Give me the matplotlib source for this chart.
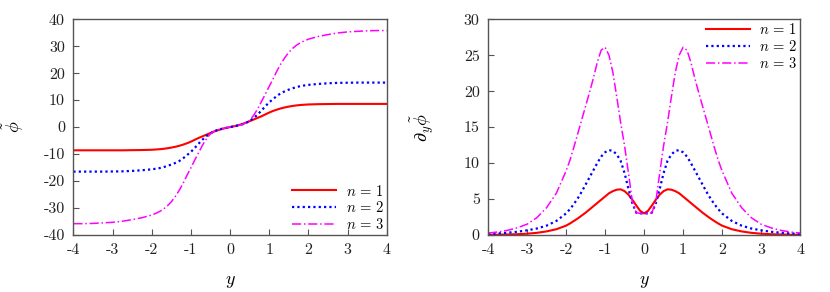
#!/usr/bin/env python3
"""
Profile of phi-tilde and its y-derivative for n = 1, 2, 3 (two panels).
"""

import matplotlib

matplotlib.use("Agg")
import matplotlib.pyplot as plt

plt.rcParams["font.family"] = ["cmr10", "DejaVu Serif"]
plt.rcParams["mathtext.fontset"] = "cm"
plt.rcParams["axes.unicode_minus"] = False

# sample positions along y
Y = [-4.0, -3.75, -3.5, -3.25, -3.0, -2.75, -2.5, -2.25,
     -2.0, -1.9, -1.8, -1.7, -1.6, -1.5, -1.4, -1.3, -1.2, -1.1,
     -1.0, -0.9, -0.8, -0.7, -0.6, -0.5, -0.4, -0.3, -0.2, -0.1,
     0.0, 0.1, 0.2, 0.3, 0.4, 0.5, 0.6, 0.7, 0.8, 0.9,
     1.0, 1.1, 1.2, 1.3, 1.4, 1.5, 1.6, 1.7, 1.8, 1.9,
     2.0, 2.25, 2.5, 2.75, 3.0, 3.25, 3.5, 3.75, 4.0]

# left panel: phi-tilde
PHI_N1 = [-8.6, -8.6, -8.6, -8.6, -8.6, -8.6, -8.55, -8.5,
          -8.4, -8.3, -8.2, -8.05, -7.85, -7.6, -7.3, -6.95, -6.5, -6.0,
          -5.4, -4.7, -4.0, -3.4, -2.8, -2.2, -1.6, -1.1, -0.65, -0.3,
          0.0, 0.3, 0.65, 1.1, 1.6, 2.2, 2.8, 3.4, 4.0, 4.7,
          5.4, 6.0, 6.5, 6.95, 7.3, 7.6, 7.85, 8.05, 8.2, 8.3,
          8.4, 8.5, 8.55, 8.6, 8.6, 8.6, 8.6, 8.6, 8.6]
PHI_N2 = [-16.5, -16.5, -16.5, -16.5, -16.45, -16.4, -16.25, -16.0,
          -15.65, -15.45, -15.2, -14.85, -14.4, -13.9, -13.3, -12.6, -11.6, -10.4,
          -9.2, -7.7, -6.1, -4.6, -3.3, -2.3, -1.5, -0.95, -0.6, -0.3,
          0.0, 0.3, 0.6, 0.95, 1.5, 2.3, 3.3, 4.6, 6.1, 7.7,
          9.2, 10.4, 11.6, 12.6, 13.3, 13.9, 14.4, 14.85, 15.2, 15.45,
          15.65, 16.0, 16.25, 16.4, 16.45, 16.5, 16.5, 16.5, 16.5]
PHI_N3 = [-35.8, -35.8, -35.7, -35.5, -35.3, -34.9, -34.3, -33.6,
          -32.6, -32.0, -31.3, -30.4, -29.2, -27.7, -25.8, -23.5, -20.9, -17.9,
          -15.1, -12.2, -9.4, -6.6, -4.3, -2.5, -1.5, -0.95, -0.6, -0.3,
          0.0, 0.3, 0.6, 0.95, 1.5, 2.5, 4.3, 6.6, 9.4, 12.2,
          15.1, 17.9, 20.9, 23.5, 25.8, 27.7, 29.2, 30.4, 31.3, 32.0,
          32.6, 33.6, 34.3, 34.9, 35.3, 35.5, 35.7, 35.8, 35.8]

# right panel: d/dy phi-tilde
DPHI_N1 = [0.02, 0.04, 0.07, 0.11, 0.18, 0.3, 0.5, 0.8,
           1.3, 1.6, 1.95, 2.3, 2.7, 3.1, 3.55, 4.0, 4.45, 4.9,
           5.35, 5.8, 6.1, 6.3, 6.35, 6.1, 5.6, 4.9, 4.1, 3.35,
           3.0, 3.35, 4.1, 4.9, 5.6, 6.1, 6.35, 6.3, 6.1, 5.8,
           5.35, 4.9, 4.45, 4.0, 3.55, 3.1, 2.7, 2.3, 1.95, 1.6,
           1.3, 0.8, 0.5, 0.3, 0.18, 0.11, 0.07, 0.04, 0.02]
DPHI_N2 = [0.15, 0.22, 0.32, 0.45, 0.65, 0.9, 1.3, 1.95,
           3.0, 3.6, 4.3, 5.1, 6.0, 7.0, 8.0, 9.0, 10.0, 10.9,
           11.5, 11.8, 11.7, 11.2, 10.3, 8.6, 6.4, 4.4, 3.1, 3.0,
           3.0, 3.0, 3.1, 4.4, 6.4, 8.6, 10.3, 11.2, 11.7, 11.8,
           11.5, 10.9, 10.0, 9.0, 8.0, 7.0, 6.0, 5.1, 4.3, 3.6,
           3.0, 1.95, 1.3, 0.9, 0.65, 0.45, 0.32, 0.22, 0.15]
DPHI_N3 = [0.27, 0.42, 0.65, 1.0, 1.5, 2.4, 3.8, 5.8,
           8.9, 10.4, 12.2, 14.1, 16.0, 17.9, 19.8, 21.8, 24.0, 25.7,
           26.1, 25.0, 22.6, 19.2, 15.6, 12.4, 8.6, 4.6, 3.1, 3.0,
           3.0, 3.0, 3.1, 4.6, 8.6, 12.4, 15.6, 19.2, 22.6, 25.0,
           26.1, 25.7, 24.0, 21.8, 19.8, 17.9, 16.0, 14.1, 12.2, 10.4,
           8.9, 5.8, 3.8, 2.4, 1.5, 1.0, 0.65, 0.42, 0.27]

LABELS = [r"$n\,=\,1$", r"$n\,=\,2$", r"$n\,=\,3$"]
X_TICKS = [-4, -3, -2, -1, 0, 1, 2, 3, 4]

STYLES = [
    dict(color="#ff0000", lw=1.5, ls="-"),
    dict(color="#0000ff", lw=1.6, ls=(0, (1, 1.4))),
    dict(color="#ff00ff", lw=1.1, ls=(0, (6, 1.8, 1, 1.8))),
]


def style_axes(ax):
    for sp in ax.spines.values():
        sp.set_color("#555555")
        sp.set_linewidth(1.0)
    ax.tick_params(direction="in", length=4, width=0.8, color="#555555",
                   labelsize=11.5, labelcolor="#222222", pad=6,
                   top=False, right=False)
    ax.set_xlim(-4, 4)
    ax.set_xticks(X_TICKS)
    ax.set_xlabel(r"$y$", fontsize=13, labelpad=12)


def legend(ax, loc):
    ax.legend(loc=loc, frameon=False, fontsize=10.5, handlelength=3.0,
              handletextpad=0.65, labelspacing=0.12, borderaxespad=0.05,
              borderpad=0.15)


def main():
    fig = plt.figure(figsize=(8.3, 2.92), dpi=100)
    ax1 = fig.add_axes([0.0884, 0.1952, 0.3775, 0.739])
    ax2 = fig.add_axes([0.588, 0.1952, 0.376, 0.739])

    for vals, lab, st in zip([PHI_N1, PHI_N2, PHI_N3], LABELS, STYLES):
        ax1.plot(Y, vals, label=lab, **st)
    style_axes(ax1)
    ax1.set_ylim(-40, 40)
    ax1.set_yticks(range(-40, 41, 10))
    ax1.set_ylabel(r"$\tilde{\phi}$", fontsize=13, labelpad=13)
    legend(ax1, "lower right")

    for vals, lab, st in zip([DPHI_N1, DPHI_N2, DPHI_N3], LABELS, STYLES):
        ax2.plot(Y, vals, label=lab, **st)
    style_axes(ax2)
    ax2.set_ylim(0, 30)
    ax2.set_yticks(range(0, 31, 5))
    ax2.set_ylabel(r"$\partial_y\tilde{\phi}$", fontsize=13, labelpad=20)
    legend(ax2, "upper right")

    fig.savefig("out.png", dpi=100)
    plt.close(fig)


if __name__ == "__main__":
    main()
